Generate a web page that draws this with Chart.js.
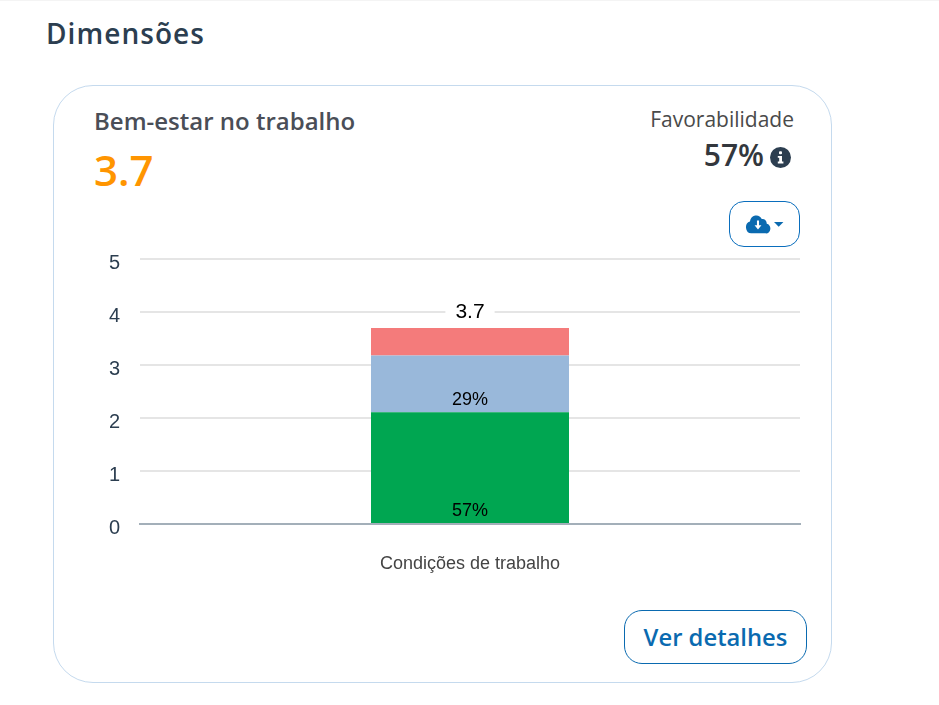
<!DOCTYPE html>
<html lang="pt">
<head>
<meta charset="utf-8">
<title>Dimensões</title>
<script src="https://cdn.jsdelivr.net/npm/chart.js@4/dist/chart.umd.min.js"></script>
<style>
  html, body { margin: 0; padding: 0; background: #fff; }
  body { width: 939px; height: 705px; position: relative; overflow: hidden; font-family: "Open Sans", sans-serif; }
  .abs { position: absolute; white-space: nowrap; }
  #topline { left: 0; top: 0; width: 939px; height: 1px; background: #f4f4f4; }
  #heading { left: 46px; top: 14px; font-size: 28px; line-height: 38px; font-weight: 600; color: #2c3e50; letter-spacing: 1.05px; }
  #card { left: 53px; top: 85px; width: 777px; height: 596px; border: 1px solid #c5daee; border-radius: 40px; }
  #dimName { left: 94px; top: 104px; font-size: 24px; line-height: 34px; font-weight: 600; color: #4a4e57; }
  #dimScore { left: 94px; top: 142px; font-size: 42px; line-height: 56px; color: #ff9500; font-weight: 600; }
  #favLabel { right: 145px; top: 104px; font-size: 21px; line-height: 30px; color: #4a4a4a; }
  #favValue { right: 175px; top: 135px; font-size: 30px; line-height: 40px; font-weight: 600; color: #33373d; }
  #infoIcon { left: 770px; top: 147px; }
  #downloadBtn { left: 729px; top: 201px; width: 69px; height: 44px; border: 1px solid #0a6ebd; border-radius: 15px; }
  #detailsBtn { left: 624px; top: 610px; width: 181px; height: 52px; border: 1px solid #0a6ab0; border-radius: 18px;
    text-align: center; font-size: 23.8px; line-height: 52px; font-weight: 600; color: #0a6ab0; }
  #chartBox { left: 90px; top: 240px; width: 720px; height: 345px; }
</style>
</head>
<body>
<div class="abs" id="topline"></div>
<div class="abs" id="heading">Dimensões</div>
<div class="abs" id="card"></div>
<div class="abs" id="dimName">Bem-estar no trabalho</div>
<div class="abs" id="dimScore">3.7</div>
<div class="abs" id="favLabel">Favorabilidade</div>
<div class="abs" id="favValue">57%</div>
<svg class="abs" id="infoIcon" width="21" height="21" viewBox="0 0 21 21">
  <circle cx="10.5" cy="10.5" r="10.5" fill="#2c3e50"/>
  <rect x="9" y="4.2" width="3" height="3" rx="1" fill="#fff"/>
  <path d="M7.8 9h4.2v5.6h1.4v1.8H7.8v-1.8h1.4v-3.8H7.8z" fill="#fff"/>
</svg>
<div class="abs" id="downloadBtn">
  <svg class="abs" style="left:15px;top:13px" width="42" height="20" viewBox="0 0 42 20">
    <g transform="translate(0.6 0.4) scale(0.8 0.92)">
      <path d="M7 19.5a6.5 6.5 0 0 1-1.6-12.8A8 8 0 0 1 20.2 4a5.2 5.2 0 0 1 6.3 5.2 5.2 5.2 0 0 1-1.5 10.3z" fill="#0a6ab0"/>
      <path d="M14.2 5.6h2.6v5.2h3l-4.3 4.6-4.3-4.6h3z" fill="#fff"/>
    </g>
    <path d="M29 7h9.4l-4.7 4.7z" fill="#0a6ab0"/>
  </svg>
</div>
<div class="abs" id="detailsBtn">Ver detalhes</div>
<div class="abs" id="chartBox"><canvas id="dimensionChart"></canvas></div>

<script>
const categories = ['Condições de trabalho'];
const favorableValues = [2.11];
const neutralValues = [1.07];
const unfavorableValues = [0.52];
const favorableLabels = ['57%'];
const neutralLabels = ['29%'];
const totalLabels = ['3.7'];
const yTicks = [0, 1, 2, 3, 4, 5];

// percent labels sit at the base of each segment, total sits above the stack
const barLabels = {
    id: 'barLabels',
    afterDatasetsDraw(chart) {
        const ctx = chart.ctx;
        ctx.save();
        ctx.textAlign = 'center';
        ctx.textBaseline = 'middle';
        ctx.fillStyle = '#000';
        ctx.font = '18px "Liberation Sans", Arial, sans-serif';
        [favorableLabels, neutralLabels].forEach((labels, i) => {
            chart.getDatasetMeta(i).data.forEach((bar, j) => {
                ctx.fillText(labels[j], bar.x, bar.base - 12);
            });
        });
        const top = chart.getDatasetMeta(2).data;
        top.forEach((bar, j) => {
            const text = totalLabels[j];
            ctx.font = '21px "Liberation Sans", Arial, sans-serif';
            const w = ctx.measureText(text).width;
            ctx.fillStyle = '#fff';
            ctx.fillRect(bar.x - w / 2 - 10, bar.y - 28, w + 20, 24);
            ctx.fillStyle = '#000';
            ctx.fillText(text, bar.x, bar.y - 16);
        });
        ctx.restore();
    }
};

new Chart(document.getElementById('dimensionChart'), {
    type: 'bar',
    data: {
        labels: categories,
        datasets: [
            { data: favorableValues, backgroundColor: '#00a651' },
            { data: neutralValues, backgroundColor: '#99b8da' },
            { data: unfavorableValues, backgroundColor: '#f47b7b' }
        ].map(d => ({ ...d, borderWidth: 0, barPercentage: 0.3, categoryPercentage: 1 }))
    },
    options: {
        responsive: true,
        maintainAspectRatio: false,
        animation: false,
        layout: { padding: { top: 19, right: 10, left: 0, bottom: 0 } },
        plugins: { legend: { display: false }, tooltip: { enabled: false } },
        scales: {
            x: {
                stacked: true,
                border: { display: true, color: '#a3afb9', width: 2, z: 2 },
                grid: { display: false },
                ticks: {
                    color: '#444',
                    padding: 21,
                    font: { family: '"Liberation Sans", Arial, sans-serif', size: 18 }
                },
                afterFit(axis) { axis.height = 61; axis.paddingLeft = 0; axis.paddingRight = 0; }
            },
            y: {
                stacked: true,
                min: 0,
                max: 5,
                afterBuildTicks(axis) { axis.ticks = yTicks.map(v => ({ value: v })); },
                border: { display: false },
                grid: { color: '#e5e5e5', lineWidth: 2, drawTicks: false },
                ticks: {
                    color: '#2c3e50',
                    padding: 20,
                    labelOffset: 4,
                    font: { family: '"Liberation Sans", Arial, sans-serif', size: 20 }
                },
                afterFit(axis) { axis.width = 50; axis.paddingTop = 0; axis.paddingBottom = 0; }
            }
        }
    },
    plugins: [barLabels]
});
</script>
</body>
</html>
